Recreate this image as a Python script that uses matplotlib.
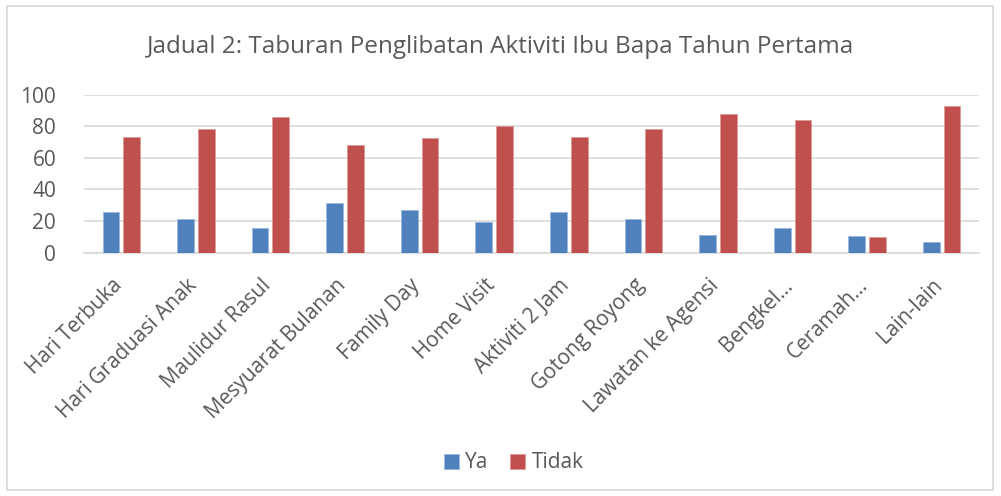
import numpy as np
import matplotlib.pyplot as plt
from matplotlib.patches import Rectangle
from matplotlib.transforms import ScaledTranslation

categories = ['Hari Terbuka', 'Hari Graduasi Anak', 'Maulidur Rasul', 'Mesyuarat Bulanan',
              'Family Day', 'Home Visit', 'Aktiviti 2 Jam', 'Gotong Royong',
              'Lawatan ke Agensi', 'Bengkel…', 'Ceramah…', 'Lain-lain']
ya = [26, 21.5, 15.5, 31.3, 27.3, 19.5, 26, 21.5, 11.5, 15.5, 10.6, 6.5]
tidak = [73.5, 78.3, 86, 68.3, 72.5, 80.3, 73.5, 78.3, 88, 84, 10, 93]
yticks = [0, 20, 40, 60, 80, 100]

plt.rcParams['font.family'] = ['Open Sans', 'DejaVu Sans']
grey = '#595959'
blue = '#4f81bd'
red = '#c0504d'

fig = plt.figure(figsize=(10.01, 4.96), dpi=100)
# chart border
fig.patches.append(Rectangle((7/1001, 6/496), 986/1001, 484/496, transform=fig.transFigure,
                             fill=False, edgecolor='#d9d9d9', linewidth=1.2))

ax = fig.add_axes([84/1001, 1 - 252.7/496, 895/1001, 158/496])
x = np.arange(len(categories))
w = 0.224
off = 0.139
ax.bar(x - off, ya, w, color=blue, edgecolor='#9ab8dc', linewidth=0.6, label='Ya', zorder=3)
ax.bar(x + off, tidak, w, color=red, edgecolor='#dc9a98', linewidth=0.6, label='Tidak', zorder=3)

ax.set_xlim(-0.5, len(categories) - 0.5)
ax.set_ylim(0, 100)
ax.set_yticks(yticks)
ax.yaxis.grid(True, color='#d9d9d9', linewidth=1.2, zorder=0)
ax.set_axisbelow(True)
for s in ['top', 'right', 'left']:
    ax.spines[s].set_visible(False)
ax.spines['bottom'].set_color('#d9d9d9')
ax.spines['bottom'].set_linewidth(1.2)
ax.tick_params(axis='both', length=0, colors=grey, labelsize=15)
ax.tick_params(axis='y', pad=20)
ax.set_xticks(x)
ax.set_xticklabels(categories, rotation=45, ha='right', rotation_mode='anchor')
ax.tick_params(axis='x', pad=16)
# nudge the slanted labels left like the original
shift = ScaledTranslation(-0.1, 0, fig.dpi_scale_trans)
for lbl in ax.get_xticklabels():
    lbl.set_transform(lbl.get_transform() + shift)

fig.text(0.5, 1 - 47/496, 'Jadual 2: Taburan Penglibatan Aktiviti Ibu Bapa Tahun Pertama',
         ha='center', va='center', fontsize=17.5, color=grey)

fig.legend(loc='center', bbox_to_anchor=(0.513, 1 - 463/496), ncol=2, frameon=False,
           fontsize=15, labelcolor=grey, handlelength=0.75, handleheight=0.75,
           handletextpad=0.3, columnspacing=1.0)

fig.savefig('out.png', dpi=100)
